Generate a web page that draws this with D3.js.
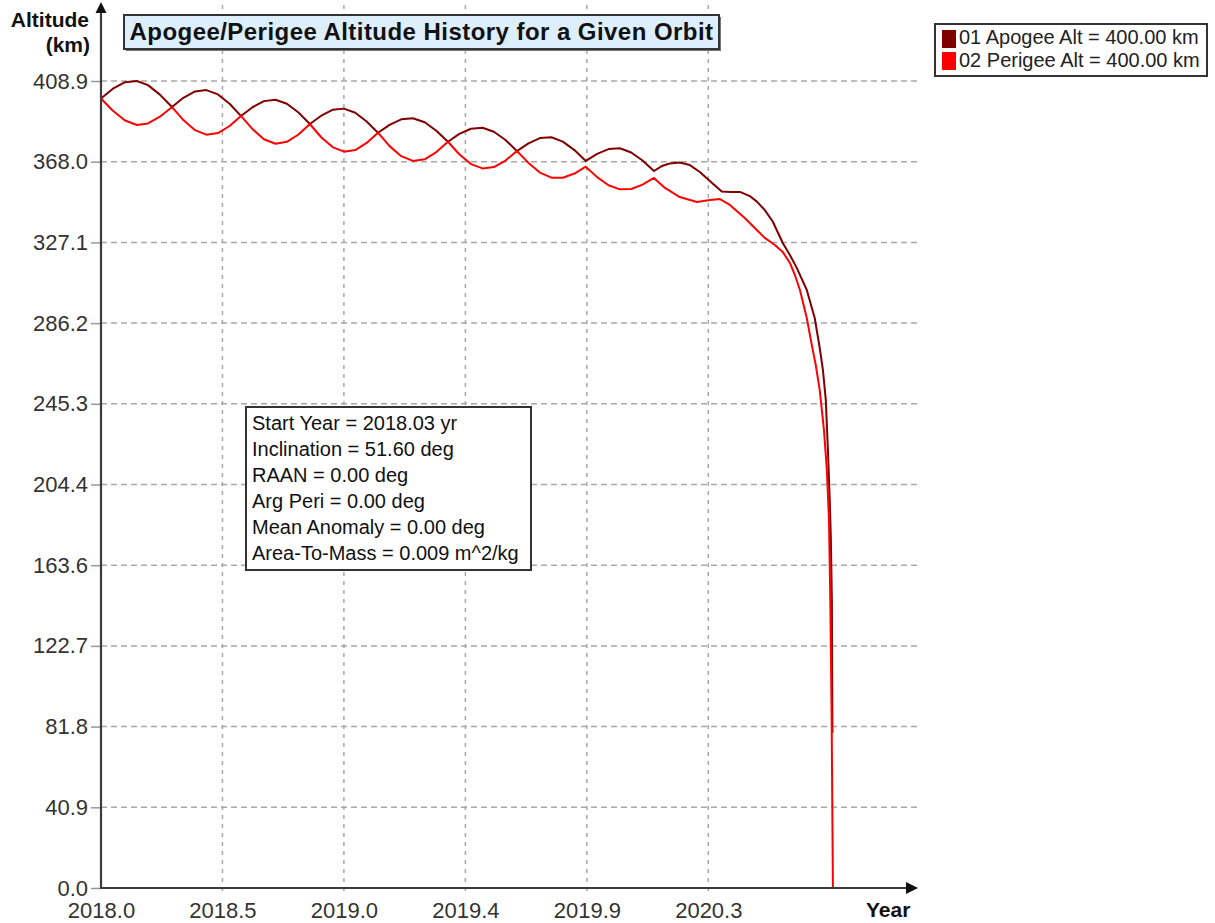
<!DOCTYPE html>
<html>
<head>
<meta charset="utf-8">
<script type="text/javascript" src="https://d3js.org/d3.v7.min.js"></script>
<style>
  body { margin: 0; background: #fff; }
  text { font-family: "Liberation Sans", Arial, sans-serif; }
</style>
</head>
<body>
<div id="chart"></div>
<script type="text/javascript">
  const w = 1215
  const h = 923

  // shared sample times for the oscillating part (years)
  const orbitYears = [
    2018.030, 2018.075, 2018.121, 2018.166, 2018.208, 2018.253, 2018.299,
    2018.342, 2018.386, 2018.429, 2018.473, 2018.517, 2018.560,
    2018.604, 2018.647, 2018.691, 2018.734, 2018.778, 2018.821,
    2018.864, 2018.907, 2018.950, 2018.993, 2019.036, 2019.079,
    2019.123, 2019.167, 2019.211, 2019.256, 2019.300, 2019.344,
    2019.387, 2019.431, 2019.475, 2019.518, 2019.562, 2019.605,
    2019.649, 2019.692, 2019.736, 2019.779, 2019.823, 2019.866,
    2019.909, 2019.952, 2019.995, 2020.038, 2020.081, 2020.124
  ]
  const apogeeAlt = [
    400.0, 405.0, 408.3, 408.9, 406.8, 402.0, 395.7,
    400.4, 403.6, 404.3, 402.1, 397.4, 391.2,
    395.6, 398.7, 399.4, 397.4, 392.9, 387.1,
    391.3, 394.3, 394.9, 392.8, 388.4, 382.7,
    386.7, 389.5, 390.0, 388.0, 383.7, 378.1,
    382.1, 384.7, 385.2, 383.2, 379.0, 373.4,
    377.3, 380.0, 380.4, 378.2, 373.9, 368.4,
    372.0, 374.4, 374.8, 372.7, 368.6, 363.3
  ]
  const perigeeAlt = [
    400.0, 393.8, 388.9, 386.6, 387.4, 390.8, 395.7,
    389.1, 384.0, 381.7, 382.5, 386.1, 391.2,
    384.5, 379.4, 377.1, 378.1, 381.8, 387.1,
    380.4, 375.4, 373.1, 373.9, 377.5, 382.7,
    375.9, 370.8, 368.4, 369.2, 372.9, 378.1,
    371.8, 366.8, 364.6, 365.3, 368.6, 373.4,
    367.4, 362.5, 359.9, 359.9, 362.0, 365.5,
    360.2, 356.1, 354.0, 354.2, 356.4, 359.8
  ]

  // decay phase
  const apogeeTailYears = [
    2020.154, 2020.184, 2020.222, 2020.260, 2020.298, 2020.340, 2020.381, 2020.415,
    2020.450, 2020.487, 2020.514, 2020.544, 2020.574, 2020.612, 2020.639, 2020.665,
    2020.703, 2020.733, 2020.752, 2020.764, 2020.775, 2020.783, 2020.790, 2020.794,
    2020.798, 2020.800
  ]
  const apogeeTailAlt = [
    365.8, 367.1, 367.6, 366.3, 362.8, 357.7, 352.9, 352.7,
    352.7, 350.6, 347.8, 343.5, 337.7, 326.8, 320.7, 314.2,
    303.0, 288.8, 273.6, 262.5, 247.3, 221.9, 196.6, 177.9,
    145.9, 78.5
  ]
  const perigeeTailYears = [
    2020.166, 2020.222, 2020.287, 2020.336, 2020.374, 2020.412, 2020.442, 2020.468,
    2020.506, 2020.544, 2020.582, 2020.612, 2020.639, 2020.658, 2020.677, 2020.703,
    2020.722, 2020.737, 2020.752, 2020.768, 2020.779, 2020.787, 2020.792, 2020.797,
    2020.802
  ]
  const perigeeTailAlt = [
    354.7, 350.1, 347.6, 348.6, 349.1, 346.1, 342.5, 339.5,
    334.4, 329.4, 325.8, 322.3, 316.7, 310.6, 303.0, 288.8,
    275.1, 265.0, 252.3, 232.1, 211.8, 186.5, 145.9, 88.7,
    0.0
  ]

  const xTicks = [2018.03, 2018.49, 2018.95, 2019.41, 2019.87, 2020.33]
  const xTickLabels = ["2018.0", "2018.5", "2019.0", "2019.4", "2019.9", "2020.3"]
  const yTicks = [0, 40.89, 81.78, 122.67, 163.56, 204.45, 245.34, 286.23, 327.12, 368.01, 408.9]
  const yTickLabels = ["0.0", "40.9", "81.8", "122.7", "163.6", "204.4", "245.3", "286.2", "327.1", "368.0", "408.9"]

  const seriesNames = ["01 Apogee Alt = 400.00 km", "02 Perigee Alt = 400.00 km"]
  const seriesColors = ["#800000", "#ff0000"]

  const infoLines = [
    "Start Year = 2018.03 yr",
    "Inclination = 51.60 deg",
    "RAAN = 0.00 deg",
    "Arg Peri = 0.00 deg",
    "Mean Anomaly = 0.00 deg",
    "Area-To-Mass = 0.009 m^2/kg"
  ]

  const toPoints = (ys, vs) => ys.map((t, i) => ({year: t, alt: vs[i]}))
  const series = [
    toPoints(orbitYears.concat(apogeeTailYears), apogeeAlt.concat(apogeeTailAlt)),
    toPoints(orbitYears.concat(perigeeTailYears), perigeeAlt.concat(perigeeTailAlt))
  ]

  const x = d3.scaleLinear().domain([2018.03, 2020.33]).range([101, 708.3])
  const y = d3.scaleLinear().domain([0, 408.9]).range([888, 81])
  const xRight = 918

  const svg = d3.select("#chart")
    .append("svg")
    .attr("width", w)
    .attr("height", h)
    .attr("viewBox", [0, 0, w, h])

  svg.append("rect").attr("width", w).attr("height", h).attr("fill", "#fff")

  // grid
  const grid = svg.append("g")
    .attr("stroke", "#a8a8a8")
    .attr("stroke-width", 1.5)
  grid.selectAll("line.h")
    .data(yTicks.slice(1))
    .enter().append("line")
      .attr("class", "h")
      .attr("stroke-dasharray", "6,4")
      .attr("x1", 101).attr("x2", xRight)
      .attr("y1", d => y(d)).attr("y2", d => y(d))
  grid.selectAll("line.v")
    .data(xTicks.slice(1))
    .enter().append("line")
      .attr("class", "v")
      .attr("stroke-dasharray", "4,5")
      .attr("x1", d => x(d)).attr("x2", d => x(d))
      .attr("y1", 5).attr("y2", 894)

  // axes (ticks + labels from d3, lines drawn by hand with arrows)
  const yAxis = svg.append("g")
    .attr("transform", "translate(101,0)")
    .call(d3.axisLeft(y).tickValues(yTicks).tickFormat((d, i) => yTickLabels[i]).tickSize(10).tickPadding(3))
  const xAxis = svg.append("g")
    .attr("transform", "translate(0,888)")
    .call(d3.axisBottom(x).tickValues(xTicks).tickFormat((d, i) => xTickLabels[i]).tickSize(0).tickPadding(14))
  ;[yAxis, xAxis].forEach(g => {
    g.select(".domain").remove()
    g.selectAll(".tick line").attr("stroke", "#999").attr("stroke-width", 1.5)
    g.selectAll(".tick text")
      .attr("fill", "#333")
      .style("font-size", "22px")
      .style("font-family", "'Liberation Sans', Arial, sans-serif")
  })

  // data lines
  const line = d3.line().x(d => x(d.year)).y(d => y(d.alt))
  svg.append("g")
    .selectAll("path")
    .data(series)
    .enter().append("path")
      .attr("d", line)
      .attr("fill", "none")
      .attr("stroke", (d, i) => seriesColors[i])
      .attr("stroke-width", 2)
      .attr("stroke-linejoin", "round")

  // axis lines
  svg.append("line").attr("x1", 101).attr("x2", 101).attr("y1", 889).attr("y2", 10)
    .attr("stroke", "#3c3c3c").attr("stroke-width", 2.2)
  svg.append("line").attr("x1", 100).attr("x2", 910).attr("y1", 888).attr("y2", 888)
    .attr("stroke", "#3c3c3c").attr("stroke-width", 2.2)
  svg.append("path").attr("d", "M101,2 L95.5,13 L106.5,13 Z").attr("fill", "#111")
  svg.append("path").attr("d", "M918,888 L906,882 L906,894 Z").attr("fill", "#111")

  svg.append("text").attr("x", 89).attr("y", 27).attr("text-anchor", "end")
    .attr("font-weight", "bold").attr("font-size", "21px").attr("fill", "#111").text("Altitude")
  svg.append("text").attr("x", 90).attr("y", 52).attr("text-anchor", "end")
    .attr("font-weight", "bold").attr("font-size", "21px").attr("fill", "#111").text("(km)")
  svg.append("text").attr("x", 866).attr("y", 917)
    .attr("font-weight", "bold").attr("font-size", "21px").attr("fill", "#111").text("Year")

  // title
  svg.append("rect").attr("x", 126).attr("y", 17).attr("width", 595).attr("height", 34).attr("fill", "#777")
  svg.append("rect").attr("x", 124).attr("y", 15).attr("width", 595).attr("height", 34)
    .attr("fill", "#ddeefc").attr("stroke", "#333").attr("stroke-width", 2)
  svg.append("text").attr("x", 421.5).attr("y", 40).attr("text-anchor", "middle")
    .attr("font-weight", "bold").attr("font-size", "24px").attr("letter-spacing", "0.45px")
    .attr("fill", "#111").text("Apogee/Perigee Altitude History for a Given Orbit")

  // legend
  const legend = svg.append("g")
  legend.append("rect").attr("x", 935).attr("y", 24).attr("width", 272).attr("height", 52)
    .attr("fill", "#fff").attr("stroke", "#333").attr("stroke-width", 2)
  legend.selectAll("rect.sw")
    .data(seriesNames)
    .enter().append("rect")
      .attr("class", "sw")
      .attr("x", 942).attr("y", (d, i) => 30 + i * 22)
      .attr("width", 14).attr("height", 18)
      .attr("fill", (d, i) => seriesColors[i])
  legend.selectAll("text")
    .data(seriesNames)
    .enter().append("text")
      .attr("x", 959).attr("y", (d, i) => 44 + i * 23)
      .attr("font-size", "20px").attr("fill", "#222")
      .text(d => d)

  // info box
  const info = svg.append("g")
  info.append("rect").attr("x", 246).attr("y", 407).attr("width", 285).attr("height", 163)
    .attr("fill", "#fff").attr("stroke", "#333").attr("stroke-width", 2)
  info.selectAll("text")
    .data(infoLines)
    .enter().append("text")
      .attr("x", 252).attr("y", (d, i) => 430 + i * 26)
      .attr("font-size", "20px").attr("fill", "#111")
      .text(d => d)
</script>
</body>
</html>
